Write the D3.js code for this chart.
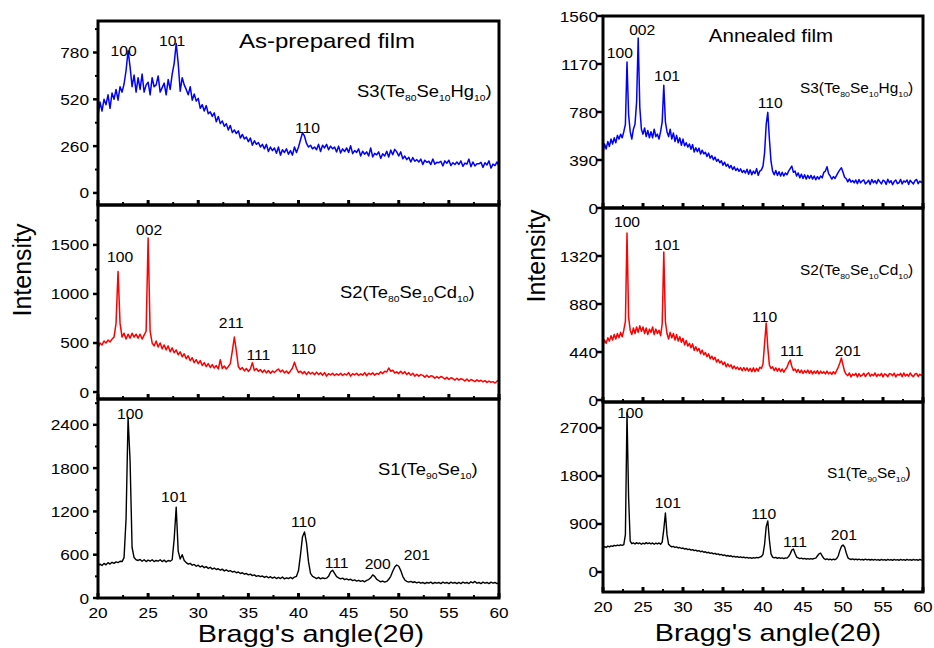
<!DOCTYPE html>
<html>
<head>
<meta charset="utf-8">
<script src="https://cdn.jsdelivr.net/npm/d3@7/dist/d3.min.js"></script>
<style>
  body { margin: 0; background: #fff; }
  text { font-family: 'Liberation Sans', Arial, sans-serif; fill: #000; }
</style>
</head>
<body>
<svg width="934" height="648"></svg>
<script>
// XRD patterns, sampled every 0.2 deg from 20 to 60 (2theta)
const angleStart = 20;
const angleStep = 0.2;
const xMajorTicks = [20, 25, 30, 35, 40, 45, 50, 55, 60];
const xMinorTicks = [22.5, 27.5, 32.5, 37.5, 42.5, 47.5, 52.5, 57.5];

// ---- As-prepared film ----
const asPrepS3 = [
  430, 505, 455, 520, 490, 545, 470, 555, 520, 575,
  515, 590, 560, 605, 680, 790, 700, 590, 655, 560,
  640, 575, 660, 560, 600, 615, 545, 640, 590, 600,
  650, 560, 585, 610, 545, 630, 575, 660, 720, 830,
  720, 565, 640, 600, 575, 545, 590, 515, 550, 510,
  525, 470, 490, 455, 485, 440, 450, 425, 445, 395,
  425, 385, 400, 370, 385, 350, 375, 335, 350, 330,
  345, 305, 325, 300, 310, 285, 305, 265, 290, 270,
  280, 255, 270, 245, 270, 230, 255, 235, 250, 220,
  255, 210, 240, 225, 245, 215, 235, 210, 255, 225,
  255, 295, 335, 315, 275, 255, 265, 245, 255, 240,
  270, 230, 265, 250, 270, 240, 260, 245, 255, 228,
  260, 222, 245, 230, 250, 225, 262, 218, 235, 225,
  245, 205, 232, 215, 228, 205, 250, 200, 220, 212,
  228, 192, 218, 205, 232, 200, 238, 212, 242, 228,
  205, 228, 190, 205, 185, 198, 172, 196, 176, 185,
  172, 188, 158, 182, 170, 176, 158, 188, 160, 170,
  168, 176, 150, 178, 165, 182, 152, 168, 158, 172,
  158, 178, 148, 166, 160, 188, 146, 172, 150, 162,
  162, 170, 142, 168, 155, 178, 138, 160, 152, 172,
  148
];
const asPrepS2 = [
  450, 500, 480, 520, 500, 530, 510, 540, 560, 700,
  1230, 700, 560, 600, 540, 590, 550, 600, 560, 590,
  550, 590, 540, 580, 620, 1570, 620, 500, 470, 520,
  460, 500, 440, 480, 430, 470, 410, 450, 400, 430,
  380, 410, 360, 390, 340, 370, 320, 350, 300, 330,
  290, 320, 270, 300, 260, 290, 250, 280, 245, 270,
  235, 330, 240, 265, 235, 260, 290, 420, 560, 420,
  260, 230, 250, 215, 240, 210, 235, 300, 220, 240,
  210, 230, 200, 225, 195, 220, 190, 215, 200, 220,
  235, 205, 225, 195, 215, 190, 215, 245, 305, 240,
  200, 212, 188, 208, 178, 206, 184, 200, 176, 203,
  178, 196, 172, 198, 162, 188, 175, 192, 168, 186,
  172, 192, 168, 186, 174, 198, 162, 188, 175, 192,
  168, 186, 172, 198, 166, 192, 178, 196, 172, 190,
  182, 206, 188, 212, 204, 245, 212, 222, 194, 206,
  188, 212, 186, 208, 178, 198, 172, 192, 162, 182,
  162, 178, 170, 152, 172, 150, 166, 160, 142, 158,
  142, 158, 148, 132, 150, 128, 146, 138, 122, 140,
  122, 136, 128, 112, 132, 110, 128, 118, 106, 124,
  108, 120, 104, 116, 98, 112, 100, 106, 92, 110,
  120
];
const asPrepS1 = [
  440, 470, 450, 480, 460, 490, 470, 495, 480, 500,
  490, 510, 505, 560, 1100, 2500, 1900, 700, 560, 530,
  520, 535, 510, 530, 505, 525, 510, 530, 505, 520,
  510, 530, 505, 525, 500, 520, 510, 530, 820, 1260,
  650, 540, 600, 520, 490, 470, 480, 455, 465, 440,
  455, 430, 445, 420, 435, 410, 425, 400, 415, 395,
  405, 385, 400, 375, 390, 370, 380, 360, 370, 350,
  360, 340, 350, 330, 340, 320, 330, 310, 320, 300,
  310, 295, 305, 285, 300, 280, 295, 275, 290, 270,
  285, 270, 290, 265, 280, 270, 285, 268, 290, 300,
  380, 600, 850, 915, 760, 500, 340, 300, 285, 270,
  285, 265, 280, 270, 275, 300, 360, 385, 340, 295,
  280, 265, 275, 255, 265, 250, 260, 240, 250, 235,
  245, 230, 240, 225, 245, 255, 280, 320, 300, 260,
  240, 225, 235, 220, 230, 260, 300, 370, 430, 457,
  440, 380, 300, 250, 230, 220, 230, 215, 225, 210,
  220, 205, 215, 200, 215, 205, 220, 200, 215, 205,
  215, 200, 220, 205, 215, 200, 220, 205, 215, 200,
  215, 200, 220, 205, 215, 200, 225, 210, 230, 205,
  215, 200, 220, 205, 215, 200, 220, 205, 215, 200,
  210
];

// ---- Annealed film ----
const annealS3 = [
  450, 520, 480, 540, 500, 560, 520, 570, 530, 590,
  560, 600, 570, 620, 680, 1186, 760, 620, 560, 640,
  680, 860, 1382, 820, 640, 600, 650, 580, 630, 570,
  620, 570, 640, 580, 600, 560, 620, 700, 998, 700,
  620, 580, 640, 560, 610, 540, 590, 530, 570, 510,
  560, 505, 530, 495, 520, 478, 515, 455, 490, 458,
  486, 438, 470, 440, 452, 418, 446, 405, 426, 392,
  414, 380, 396, 368, 384, 348, 372, 340, 356, 325,
  346, 312, 335, 305, 322, 298, 318, 288, 305, 284,
  315, 275, 310, 270, 300, 280, 320, 265, 300, 310,
  340, 450, 680, 777, 560, 380, 300, 270, 305, 265,
  295, 260, 290, 260, 285, 270, 300, 320, 340, 290,
  300, 260, 285, 245, 275, 240, 270, 235, 265, 240,
  265, 235, 260, 230, 255, 235, 260, 245, 290, 300,
  335, 280, 260, 235, 255, 240, 265, 290, 310, 327,
  290, 250, 238, 212, 236, 210, 224, 205, 228, 198,
  232, 204, 220, 228, 196, 210, 226, 192, 232, 205,
  222, 198, 232, 214, 196, 226, 218, 192, 234, 205,
  222, 190, 215, 228, 198, 205, 232, 196, 220, 210,
  228, 192, 226, 210, 196, 222, 232, 198, 218, 208,
  215
];
const annealS2 = [
  500, 550, 520, 570, 540, 590, 550, 600, 560, 610,
  570, 620, 580, 640, 720, 1531, 760, 640, 600, 660,
  610, 670, 620, 680, 630, 670, 610, 660, 600, 650,
  620, 670, 600, 650, 610, 640, 590, 700, 1357, 720,
  610, 560, 620, 570, 610, 550, 600, 540, 580, 530,
  565, 505, 545, 495, 520, 480, 515, 455, 488, 450,
  472, 425, 458, 415, 436, 398, 424, 378, 402, 370,
  392, 348, 372, 340, 358, 325, 348, 305, 332, 305,
  322, 288, 312, 285, 302, 278, 298, 268, 298, 270,
  295, 265, 290, 260, 295, 260, 290, 265, 300, 290,
  330, 520, 706, 480, 320, 290, 305, 270, 295, 265,
  290, 260, 285, 255, 280, 300, 340, 367, 310, 270,
  285, 255, 280, 250, 275, 245, 270, 250, 275, 245,
  270, 240, 265, 245, 270, 240, 265, 245, 260, 240,
  265, 240, 255, 235, 260, 240, 270, 300, 340, 385,
  320, 262, 236, 224, 248, 212, 238, 226, 244, 212,
  242, 218, 228, 246, 214, 238, 250, 218, 236, 222,
  248, 216, 236, 222, 244, 212, 240, 232, 214, 242,
  238, 222, 246, 212, 236, 228, 244, 214, 248, 220,
  236, 218, 248, 226, 214, 238, 244, 216, 236, 226,
  230
];
const annealS1 = [
  450, 475, 460, 485, 470, 490, 480, 500, 490, 505,
  495, 510, 500, 515, 700, 2981, 1400, 580, 530, 545,
  525, 550, 530, 545, 520, 540, 525, 550, 530, 545,
  525, 545, 520, 540, 525, 545, 520, 560, 800, 1106,
  700, 520, 490, 470, 480, 460, 470, 450, 460, 440,
  450, 430, 440, 420, 430, 410, 420, 400, 410, 390,
  400, 380, 390, 370, 380, 360, 370, 350, 360, 340,
  350, 330, 340, 320, 330, 310, 320, 300, 310, 295,
  305, 285, 295, 280, 290, 275, 285, 270, 280, 265,
  275, 260, 270, 255, 270, 260, 275, 265, 280, 290,
  330, 520, 850, 956, 600, 340, 280, 265, 275, 255,
  270, 255, 265, 250, 265, 260, 290, 340, 410, 431,
  350, 280, 265, 250, 260, 245, 255, 240, 250, 240,
  250, 240, 255, 260, 300, 340, 356, 300, 255, 235,
  245, 230, 240, 225, 240, 230, 250, 300, 400, 480,
  506, 470, 360, 270, 245, 235, 245, 230, 240, 230,
  240, 228, 238, 225, 240, 228, 238, 225, 235, 222,
  235, 222, 232, 220, 235, 222, 232, 220, 235, 222,
  232, 220, 235, 222, 232, 220, 235, 222, 232, 220,
  235, 222, 232, 220, 235, 222, 232, 220, 235, 222,
  225
];

// peak labels: [hkl, 2theta, intensity at label baseline]
const asPrepS3Peaks = [['100', 22.55, 761], ['101', 27.4, 816], ['110', 40.9, 333]];
const asPrepS2Peaks = [['100', 22.2, 1326], ['002', 25.1, 1601], ['211', 33.3, 653], ['111', 36.0, 326], ['110', 40.5, 388]];
const asPrepS1Peaks = [['100', 23.2, 2481], ['101', 27.6, 1331], ['110', 40.5, 984], ['111', 43.8, 416], ['200', 47.9, 402], ['201', 51.8, 527]];
const annealS3Peaks = [['100', 22.1, 1219], ['002', 24.9, 1407], ['101', 28.0, 1031], ['110', 40.9, 810]];
const annealS2Peaks = [['100', 23.0, 1586], ['101', 28.0, 1376], ['110', 40.2, 715], ['111', 43.6, 403], ['201', 50.6, 403]];
const annealS1Peaks = [['100', 23.4, 2888], ['101', 28.1, 1200], ['110', 40.1, 994], ['111', 44.0, 469], ['201', 50.1, 600]];

// y tick values per plot
const asPrepS3Ticks = [0, 260, 520, 780];
const asPrepS2Ticks = [0, 500, 1000, 1500];
const asPrepS1Ticks = [0, 600, 1200, 1800, 2400];
const annealS3Ticks = [0, 390, 780, 1170, 1560];
const annealS2Ticks = [0, 440, 880, 1320];
const annealS1Ticks = [0, 900, 1800, 2700];

const svg = d3.select('svg');

// text is slightly wide in the original figure, so stretch it horizontally
function addText(parent, x, y, str, size, anchor = 'middle', sx = 1.15) {
  return parent.append('text')
    .attr('transform', `translate(${x},${y}) scale(${sx},1)`)
    .attr('font-size', size)
    .attr('text-anchor', anchor)
    .text(str);
}

// label like "S3(Te_80Se_10Hg_10)" -> subscripts
function sampleLabel(parent, x, y, str, size, subSize, sx) {
  const t = parent.append('text')
    .attr('transform', `translate(${x},${y}) scale(${sx},1)`)
    .attr('font-size', size);
  let wasSub = false;
  str.split(/(_\d+)/).filter(s => s).forEach(part => {
    if (part.startsWith('_')) {
      t.append('tspan').attr('font-size', subSize).attr('dy', 4).text(part.slice(1));
      wasSub = true;
    } else {
      t.append('tspan').attr('dy', wasSub ? -4 : 0).text(part);
      wasSub = false;
    }
  });
}

const panels = [
  {
    x0: 98, x1: 499, title: 'As-prepared film', titleX: 327, titleY: 48, titleSize: 20, titleSx: 1.2,
    axisTitleX: 311, axisTitleY: 642, intensityX: 31, intensityY: 270,
    tickPad: 8, tickLen: 5, minorY: true, labelSize: 16, subSize: 9, labelSx: 1.15,
    plots: [
      { data: asPrepS3, color: '#0000ff', y0: 21, y1: 205, domain: [-67, 955], ticks: asPrepS3Ticks, step: 260,
        peaks: asPrepS3Peaks, label: 'S3(Te_80Se_10Hg_10)', lx: 357, ly: 97 },
      { data: asPrepS2, color: '#ff0000', y0: 205, y1: 399, domain: [-71, 1907], ticks: asPrepS2Ticks, step: 500,
        peaks: asPrepS2Peaks, label: 'S2(Te_80Se_10Cd_10)', lx: 340, ly: 298 },
      { data: asPrepS1, color: '#000000', y0: 399, y1: 598, domain: [0, 2758], ticks: asPrepS1Ticks, step: 600,
        peaks: asPrepS1Peaks, label: 'S1(Te_90Se_10)', lx: 378, ly: 475 }
    ]
  },
  {
    x0: 603, x1: 923, title: 'Annealed film', titleX: 771, titleY: 42, titleSize: 19, titleSx: 1.08,
    axisTitleX: 768, axisTitleY: 641, intensityX: 545, intensityY: 256,
    tickPad: 3, tickLen: 6, minorY: false, labelSize: 14, subSize: 8, labelSx: 1.1,
    plots: [
      { data: annealS3, color: '#0000ff', y0: 16, y1: 208, domain: [0, 1560], ticks: annealS3Ticks, step: 390,
        peaks: annealS3Peaks, label: 'S3(Te_80Se_10Hg_10)', lx: 800, ly: 93 },
      { data: annealS2, color: '#ff0000', y0: 208, y1: 402, domain: [-18, 1760], ticks: annealS2Ticks, step: 440,
        peaks: annealS2Peaks, label: 'S2(Te_80Se_10Cd_10)', lx: 800, ly: 275 },
      { data: annealS1, color: '#000000', y0: 402, y1: 592, domain: [-375, 3187], ticks: annealS1Ticks, step: 900,
        peaks: annealS1Peaks, label: 'S1(Te_90Se_10)', lx: 827, ly: 478 }
    ]
  }
];

panels.forEach(panel => {
  const g = svg.append('g');
  const x = d3.scaleLinear().domain([20, 60]).range([panel.x0, panel.x1]);

  panel.plots.forEach(p => {
    const y = d3.scaleLinear().domain(p.domain).range([p.y1, p.y0]);

    // trace
    const line = d3.line()
      .x((d, i) => x(angleStart + i * angleStep))
      .y(d => y(d));
    g.append('path')
      .datum(p.data)
      .attr('fill', 'none')
      .attr('stroke', p.color)
      .attr('stroke-width', p.color === '#000000' ? 1.4 : 1.5)
      .attr('stroke-linejoin', 'round')
      .attr('d', line);

    // x ticks (inward, along bottom of each plot)
    g.selectAll(null).data(xMajorTicks).join('line')
      .attr('x1', d => x(d)).attr('x2', d => x(d))
      .attr('y1', p.y1).attr('y2', p.y1 - 5)
      .attr('stroke', '#000').attr('stroke-width', 3);
    g.selectAll(null).data(xMinorTicks).join('line')
      .attr('x1', d => x(d)).attr('x2', d => x(d))
      .attr('y1', p.y1).attr('y2', p.y1 - 3)
      .attr('stroke', '#000').attr('stroke-width', 2);

    // y ticks (outward)
    g.selectAll(null).data(p.ticks).join('line')
      .attr('x1', panel.x0).attr('x2', panel.x0 - panel.tickLen)
      .attr('y1', d => y(d)).attr('y2', d => y(d))
      .attr('stroke', '#000').attr('stroke-width', 2.5);
    if (panel.minorY) {
      const minor = p.ticks.map(t => t + p.step / 2).filter(v => v < p.domain[1]);
      g.selectAll(null).data(minor).join('line')
        .attr('x1', panel.x0).attr('x2', panel.x0 - 3)
        .attr('y1', d => y(d)).attr('y2', d => y(d))
        .attr('stroke', '#000').attr('stroke-width', 2);
    }
    p.ticks.forEach(t => {
      addText(g, panel.x0 - panel.tickLen - panel.tickPad + 4, y(t) + 5.5, t, 15, 'end', 1.15);
    });

    // peak labels
    p.peaks.forEach(([hkl, ang, val]) => {
      addText(g, x(ang), y(val), hkl, 14, 'middle', 1.12);
    });

    sampleLabel(g, p.lx, p.ly, p.label, panel.labelSize, panel.subSize, panel.labelSx);

    // frame
    g.append('rect')
      .attr('x', panel.x0).attr('y', p.y0)
      .attr('width', panel.x1 - panel.x0).attr('height', p.y1 - p.y0)
      .attr('fill', 'none').attr('stroke', '#000').attr('stroke-width', 3);
  });

  // x tick labels under bottom plot
  const bottom = panel.plots[panel.plots.length - 1].y1;
  xMajorTicks.forEach(t => addText(g, x(t), bottom + 20, t, 15, 'middle', 1.15));

  addText(g, panel.axisTitleX, panel.axisTitleY, "Bragg's angle(2\u03b8)", 24, 'middle', 1.2);
  addText(g, panel.titleX, panel.titleY, panel.title, panel.titleSize, 'middle', panel.titleSx);

  g.append('text')
    .attr('transform', `translate(${panel.intensityX},${panel.intensityY}) rotate(-90)`)
    .attr('font-size', 25)
    .attr('text-anchor', 'middle')
    .text('Intensity');
});
</script>
</body>
</html>
